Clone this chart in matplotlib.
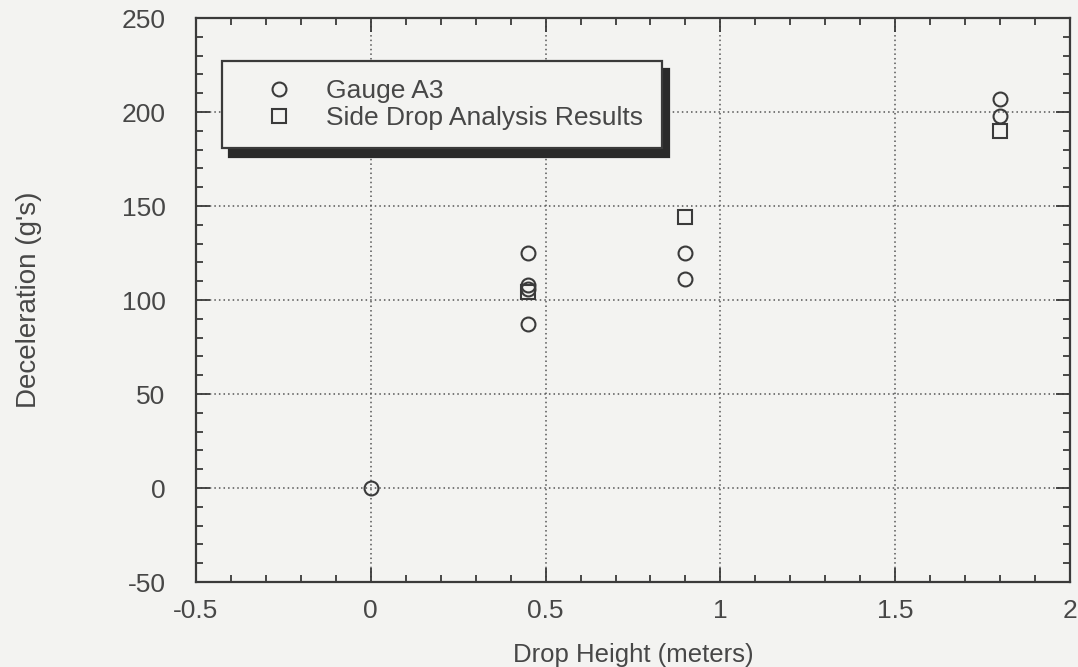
import numpy as np
import matplotlib.pyplot as plt
from matplotlib.ticker import MultipleLocator

# Gauge A3 measurements
gauge_x = [0.0, 0.45, 0.45, 0.45, 0.45, 0.9, 0.9, 1.8, 1.8]
gauge_y = [0, 125, 108, 106, 87, 125, 111, 207, 198]

# side drop analysis results
analysis_x = [0.45, 0.9, 1.8]
analysis_y = [104, 144, 190]

x_ticks = [-0.5, 0, 0.5, 1, 1.5, 2]
x_tick_labels = ["-0.5", "0", "0.5", "1", "1.5", "2"]
y_ticks = [-50, 0, 50, 100, 150, 200, 250]
y_tick_labels = ["-50", "0", "50", "100", "150", "200", "250"]

plt.rcParams['font.family'] = ['Liberation Sans', 'DejaVu Sans']

ink = "#3a3a3a"
txt = "#474747"
paper = "#f3f3f1"

fig = plt.figure(figsize=(10.78, 6.67), dpi=100)
fig.patch.set_facecolor(paper)
ax = fig.add_axes([0.1818, 0.1274, 0.8108, 0.8456])
ax.set_facecolor(paper)

ax.plot(gauge_x, gauge_y, linestyle='none', marker='o', markersize=10,
        markerfacecolor='none', markeredgecolor=ink, markeredgewidth=1.5,
        label="Gauge A3")
ax.plot(analysis_x, analysis_y, linestyle='none', marker='s', markersize=10,
        markerfacecolor='none', markeredgecolor=ink, markeredgewidth=1.5,
        label="Side Drop Analysis Results")

ax.set_xlim(-0.5, 2)
ax.set_ylim(-50, 250)
ax.set_xticks(x_ticks)
ax.set_xticklabels(x_tick_labels)
ax.set_yticks(y_ticks)
ax.set_yticklabels(y_tick_labels)
ax.xaxis.set_minor_locator(MultipleLocator(0.1))
ax.yaxis.set_minor_locator(MultipleLocator(10))

ax.grid(visible=True, which='major', color='#555555', linestyle=(0, (1, 2)), linewidth=1.1)

ax.tick_params(axis='both', which='both', direction='in', top=True, right=True,
               colors=ink, labelsize=19, width=1.3)
ax.tick_params(axis='both', which='major', length=10)
ax.tick_params(axis='both', which='minor', length=5)
ax.tick_params(axis='x', which='major', pad=12)
ax.tick_params(axis='y', which='major', pad=22)
for lab in ax.get_xticklabels() + ax.get_yticklabels():
    lab.set_color(txt)

for spine in ax.spines.values():
    spine.set_edgecolor(ink)
    spine.set_linewidth(1.6)

ax.set_xlabel("Drop Height (meters)", fontsize=18.5, color=txt)
ax.set_ylabel("Deceleration (g's)", fontsize=20, color=txt)
ax.xaxis.set_label_coords(0.5, -0.108)
ax.yaxis.set_label_coords(-0.176, 0.5)

legend = ax.legend(loc='upper left', bbox_to_anchor=(0.03, 0.924), fontsize=19,
                   fancybox=False, framealpha=1, facecolor=paper, edgecolor=ink,
                   shadow={'ox': 5, 'oy': -6, 'color': '#2a2a2a', 'alpha': 1},
                   borderpad=0.7, handletextpad=0.35, labelspacing=0.1,
                   handlelength=2.9, borderaxespad=0)
legend.get_frame().set_linewidth(1.6)
for text in legend.get_texts():
    text.set_color(txt)

plt.savefig("out.png", dpi=100, facecolor=paper)
plt.close()
